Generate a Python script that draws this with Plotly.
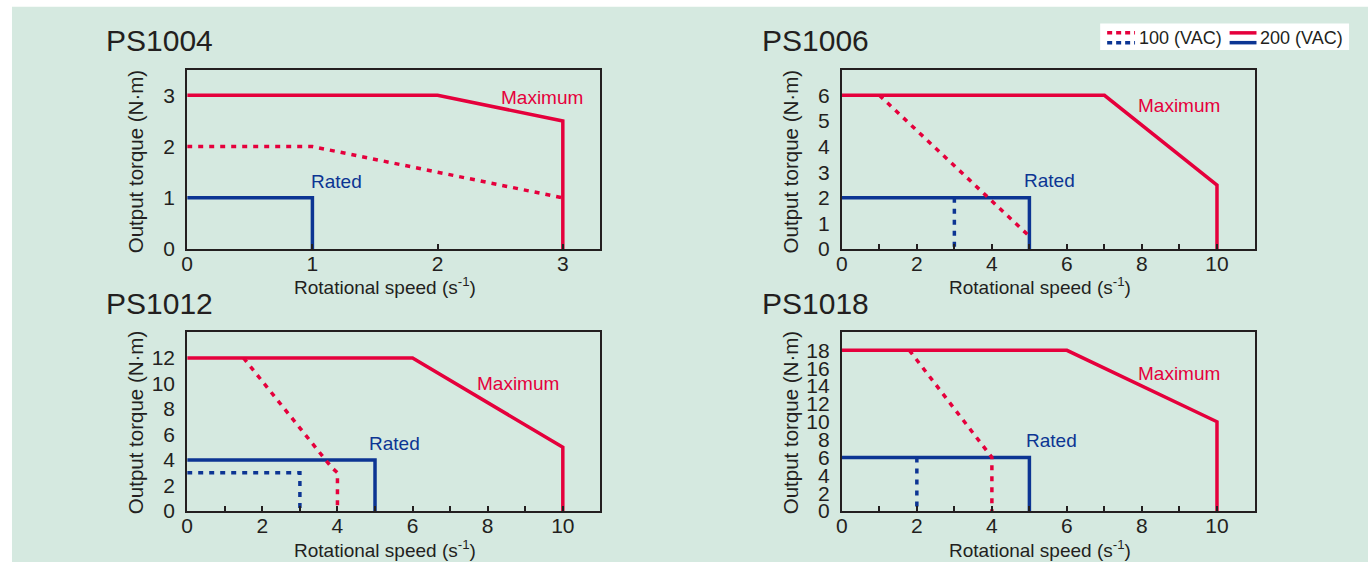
import plotly.graph_objects as go

# ---------------- data ----------------
titles = ["PS1004", "PS1006", "PS1012", "PS1018"]

# PS1004
ps1004_max200_x = [0, 2, 3, 3]
ps1004_max200_y = [3, 3, 2.5, 0]
ps1004_max100_x = [0, 1, 3]
ps1004_max100_y = [2, 2, 1]
ps1004_rated200_x = [0, 1, 1]
ps1004_rated200_y = [1, 1, 0]
ps1004_rated100_x = []
ps1004_rated100_y = []

# PS1006
ps1006_max200_x = [0, 7, 10, 10]
ps1006_max200_y = [6, 6, 2.5, 0]
ps1006_max100_x = [1, 5]
ps1006_max100_y = [6, 0.5]
ps1006_rated200_x = [0, 5, 5]
ps1006_rated200_y = [2, 2, 0]
ps1006_rated100_x = [3, 3]
ps1006_rated100_y = [2, 0]

# PS1012
ps1012_max200_x = [0, 6, 10, 10]
ps1012_max200_y = [12, 12, 5, 0]
ps1012_max100_x = [1.5, 3.85, 4, 4]
ps1012_max100_y = [12, 3.4, 3, 0]
ps1012_rated200_x = [0, 5, 5]
ps1012_rated200_y = [4, 4, 0]
ps1012_rated100_x = [0, 3, 3]
ps1012_rated100_y = [3, 3, 0]

# PS1018
ps1018_max200_x = [0, 6, 10, 10]
ps1018_max200_y = [18, 18, 10, 0]
ps1018_max100_x = [1.8, 4, 4]
ps1018_max100_y = [18, 6, 0]
ps1018_rated200_x = [0, 5, 5]
ps1018_rated200_y = [6, 6, 0]
ps1018_rated100_x = [2, 2]
ps1018_rated100_y = [6, 0]

# axis ticks
x_ranges = [[0, 3.3], [0, 11], [0, 11], [0, 11]]
x_tickvals = [[0, 1, 2, 3], [0, 2, 4, 6, 8, 10], [0, 2, 4, 6, 8, 10], [0, 2, 4, 6, 8, 10]]
x_minor_step = [None, 1, 1, 1]
y_ranges = [[0, 3.5], [0, 7], [0, 14], [0, 20]]
y_tickvals = [[0, 1, 2, 3], [0, 1, 2, 3, 4, 5, 6], [0, 2, 4, 6, 8, 10, 12],
              [0, 2, 4, 6, 8, 10, 12, 14, 16, 18]]

# label positions (data coords)
max_label_pos = [(2.83, 2.96), (9.0, 5.61), (8.81, 10.0), (9.0, 15.45)]
rated_label_pos = [(1.19, 1.32), (5.53, 2.67), (5.53, 5.3), (5.58, 7.85)]

legend_labels = ["100 (VAC)", "200 (VAC)"]

# ---------------- styling ----------------
W, H = 1368, 573
RED = "#e5003c"
BLUE = "#0c3593"
INK = "#231f20"
MINT = "#d5e9e0"
FONT = "Liberation Sans, Arial, sans-serif"
DASH = "5px,6px"

panels = [
    dict(x0=182, x1=597, top=71, bottom=254),
    dict(x0=839.5, x1=1254, top=71, bottom=254),
    dict(x0=182, x1=597, top=339, bottom=521),
    dict(x0=839.5, x1=1254, top=339, bottom=521),
]
title_pos = [(98, 41), (757, 41), (98, 309), (757, 309)]
ytitle_pos = [(130, 165), (788, 165), (130, 431), (788, 431)]
xtitle_pos = [(381, 292), (1039, 292), (381, 560), (1039, 560)]

def px(x):
    return x / W

def py(y):
    return 1 - y / H

data = [
    (ps1004_max200_x, ps1004_max200_y, ps1004_max100_x, ps1004_max100_y,
     ps1004_rated200_x, ps1004_rated200_y, ps1004_rated100_x, ps1004_rated100_y),
    (ps1006_max200_x, ps1006_max200_y, ps1006_max100_x, ps1006_max100_y,
     ps1006_rated200_x, ps1006_rated200_y, ps1006_rated100_x, ps1006_rated100_y),
    (ps1012_max200_x, ps1012_max200_y, ps1012_max100_x, ps1012_max100_y,
     ps1012_rated200_x, ps1012_rated200_y, ps1012_rated100_x, ps1012_rated100_y),
    (ps1018_max200_x, ps1018_max200_y, ps1018_max100_x, ps1018_max100_y,
     ps1018_rated200_x, ps1018_rated200_y, ps1018_rated100_x, ps1018_rated100_y),
]

fig = go.Figure()
annotations = []
layout_axes = {}

for i, p in enumerate(panels):
    n = "" if i == 0 else str(i + 1)
    xa, ya = "x" + n, "y" + n
    mx2, my2, mx1, my1, rx2, ry2, rx1, ry1 = data[i]
    # blue first, then red on top
    if rx1:
        fig.add_trace(go.Scatter(x=rx1, y=ry1, mode="lines", xaxis=xa, yaxis=ya,
                                 line=dict(color=BLUE, width=3.5, dash=DASH),
                                 showlegend=False, hoverinfo="skip"))
    fig.add_trace(go.Scatter(x=rx2, y=ry2, mode="lines", xaxis=xa, yaxis=ya,
                             line=dict(color=BLUE, width=3.5),
                             showlegend=False, hoverinfo="skip"))
    fig.add_trace(go.Scatter(x=mx1, y=my1, mode="lines", xaxis=xa, yaxis=ya,
                             line=dict(color=RED, width=3.5, dash=DASH),
                             showlegend=False, hoverinfo="skip"))
    fig.add_trace(go.Scatter(x=mx2, y=my2, mode="lines", xaxis=xa, yaxis=ya,
                             line=dict(color=RED, width=3.5),
                             showlegend=False, hoverinfo="skip"))

    xax = dict(
        domain=[px(p["x0"]), px(p["x1"])], anchor=ya, range=x_ranges[i],
        tickmode="array", tickvals=x_tickvals[i],
        ticks="inside", ticklen=5, tickwidth=2, tickcolor=INK,
        showline=True, linecolor=INK, linewidth=2, mirror=True,
        showgrid=False, zeroline=False, fixedrange=True,
        tickfont=dict(family=FONT, size=21, color=INK), ticklabelstandoff=-5,
    )
    if x_minor_step[i]:
        xax["minor"] = dict(ticks="inside", ticklen=5, tickwidth=2, tickcolor=INK,
                            dtick=x_minor_step[i], tick0=0, showgrid=False)
    layout_axes["xaxis" + n] = xax
    layout_axes["yaxis" + n] = dict(
        domain=[py(p["bottom"]), py(p["top"])], anchor=xa, range=y_ranges[i],
        tickmode="array", tickvals=y_tickvals[i],
        ticks="", showline=True, linecolor=INK, linewidth=2, mirror=True,
        showgrid=False, zeroline=False, fixedrange=True,
        tickfont=dict(family=FONT, size=21, color=INK), ticklabelstandoff=6,
    )

    # panel title
    tx, ty = title_pos[i]
    annotations.append(dict(text=titles[i], x=px(tx), y=py(ty), xref="paper", yref="paper",
                            xanchor="left", yanchor="middle", showarrow=False,
                            font=dict(family=FONT, size=30, color=INK)))
    # axis titles
    yx, yy = ytitle_pos[i]
    annotations.append(dict(text="Output torque (N·m)", x=px(yx), y=py(yy), xref="paper",
                            yref="paper", textangle=-90, xanchor="center", yanchor="middle",
                            showarrow=False, font=dict(family=FONT, size=20.5, color=INK)))
    xx, xy = xtitle_pos[i]
    annotations.append(dict(text="Rotational speed (s<sup>-1</sup>)", x=px(xx), y=py(xy),
                            xref="paper", yref="paper", xanchor="center", yanchor="middle",
                            showarrow=False, font=dict(family=FONT, size=19, color=INK)))
    # curve labels
    annotations.append(dict(text="Maximum", x=max_label_pos[i][0], y=max_label_pos[i][1],
                            xref=xa, yref=ya, showarrow=False, xanchor="center",
                            yanchor="middle", font=dict(family=FONT, size=19, color=RED)))
    annotations.append(dict(text="Rated", x=rated_label_pos[i][0], y=rated_label_pos[i][1],
                            xref=xa, yref=ya, showarrow=False, xanchor="center",
                            yanchor="middle", font=dict(family=FONT, size=19, color=BLUE)))

# legend (drawn manually)
shapes = [
    dict(type="rect", xref="paper", yref="paper", x0=px(6), x1=1, y0=0, y1=py(7),
         fillcolor=MINT, line=dict(width=0), layer="below"),
    dict(type="rect", xref="paper", yref="paper", x0=px(1099), x1=px(1349), y0=py(51), y1=py(24),
         fillcolor="white", line=dict(width=0), layer="below"),
    dict(type="line", xref="paper", yref="paper", x0=px(1106), x1=px(1134), y0=py(33.5), y1=py(33.5),
         line=dict(color=RED, width=3.5, dash="5px,4px")),
    dict(type="line", xref="paper", yref="paper", x0=px(1106), x1=px(1134), y0=py(43.5), y1=py(43.5),
         line=dict(color=BLUE, width=3.5, dash="5px,4px")),
    dict(type="line", xref="paper", yref="paper", x0=px(1229), x1=px(1256), y0=py(33.5), y1=py(33.5),
         line=dict(color=RED, width=3.5)),
    dict(type="line", xref="paper", yref="paper", x0=px(1229), x1=px(1256), y0=py(43.5), y1=py(43.5),
         line=dict(color=BLUE, width=3.5)),
]
annotations.append(dict(text=legend_labels[0], x=px(1136), y=py(38.5), xref="paper", yref="paper",
                        xanchor="left", yanchor="middle", showarrow=False,
                        font=dict(family=FONT, size=18, color=INK)))
annotations.append(dict(text=legend_labels[1], x=px(1258), y=py(38.5), xref="paper", yref="paper",
                        xanchor="left", yanchor="middle", showarrow=False,
                        font=dict(family=FONT, size=18, color=INK)))

fig.update_layout(
    width=W, height=H, margin=dict(l=0, r=0, t=0, b=0),
    paper_bgcolor="white", plot_bgcolor="white",
    showlegend=False, annotations=annotations, shapes=shapes,
    **layout_axes,
)

fig.write_html("out.html", config={"displayModeBar": False},
               post_script="document.body.style.margin='0';document.body.style.overflow='hidden';")
